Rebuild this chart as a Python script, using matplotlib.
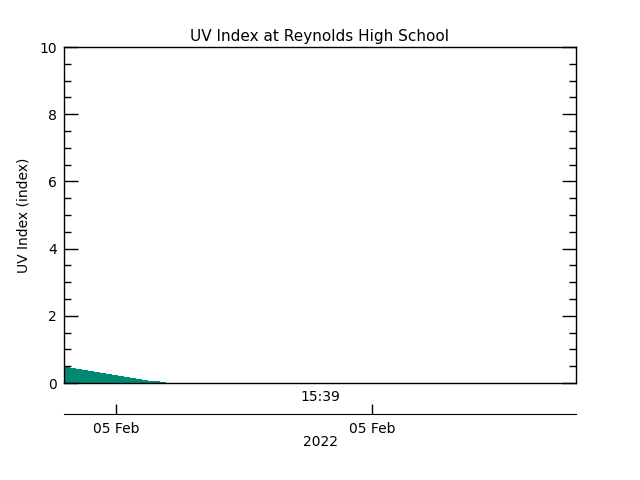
import matplotlib.pyplot as plt
from matplotlib.ticker import MultipleLocator

# time in minutes from start of plot window, UV index readings
minutes = [0, 10, 20, 30, 40, 50, 60, 70, 80, 90, 100, 110, 120, 130, 140, 150, 160, 170]
uv = [0.48, 0.46, 0.43, 0.40, 0.37, 0.34, 0.31, 0.28, 0.25, 0.22, 0.19, 0.16, 0.13, 0.10, 0.07, 0.05, 0.02, 0.0]

x_range = (0, 850)
date_ticks = [86, 511]
date_labels = ["05 Feb", "05 Feb"]
time_label = "15:39"
year_label = "2022"

fig = plt.figure(figsize=(6.4, 4.8), dpi=100)
ax = fig.add_axes([0.1, 0.202, 0.8, 0.7])
ax.fill_between(minutes, uv, 0, step="post", color="#008972", linewidth=0)
ax.set_xlim(*x_range)
ax.set_ylim(0, 10)
ax.yaxis.set_major_locator(MultipleLocator(2))
ax.yaxis.set_minor_locator(MultipleLocator(0.5))
ax.tick_params(axis="y", which="major", direction="in", length=10, width=1,
               right=True, pad=5, labelsize=10)
ax.tick_params(axis="y", which="minor", direction="in", length=5, width=1, right=True)
ax.set_xticks([])
for s in ax.spines.values():
    s.set_linewidth(1)
ax.set_title("UV Index at Reynolds High School", fontsize=11, pad=4)
ax.set_ylabel("UV Index (index)", fontsize=10)
ax.yaxis.set_label_coords(-0.066, 0.5)

# secondary date axis below the plot
ax2 = fig.add_axes([0.1, 0.1375, 0.8, 0.001])
ax2.set_xlim(*x_range)
for k in ["top", "left", "right"]:
    ax2.spines[k].set_visible(False)
ax2.set_yticks([])
ax2.set_xticks(date_ticks)
ax2.set_xticklabels(date_labels, fontsize=10)
ax2.tick_params(axis="x", direction="in", length=7, width=1, pad=6)
ax2.patch.set_visible(False)

fig.text(0.5, 1 - 397 / 480, time_label, ha="center", va="center", fontsize=10)
fig.text(0.5, 1 - 442 / 480, year_label, ha="center", va="center", fontsize=10)

fig.savefig("out.png", dpi=100)
